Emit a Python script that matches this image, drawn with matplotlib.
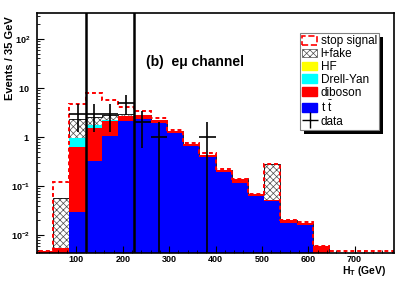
import numpy as np
import matplotlib
matplotlib.use("Agg")
import matplotlib.pyplot as plt
from matplotlib import ticker
from matplotlib.patches import Patch, Rectangle
from matplotlib.lines import Line2D

plt.rcParams['font.family'] = ['Liberation Sans', 'DejaVu Sans']
plt.rcParams['mathtext.fontset'] = 'custom'
plt.rcParams['mathtext.rm'] = 'Liberation Sans'
plt.rcParams['mathtext.it'] = 'Liberation Sans:italic'
plt.rcParams['mathtext.bf'] = 'Liberation Sans:bold'
plt.rcParams['hatch.linewidth'] = 0.5

# ---- binning: 35 GeV bins, 15 .. 785 GeV ----
edges = np.arange(15, 786, 35)

# ---- per-process yields per bin ----
ttbar = [0, 0, 0.029, 0.32, 1.05, 2.14, 2.35, 1.95, 1.22, 0.66, 0.40,
         0.19, 0.116, 0.062, 0.049, 0.0174, 0.0161, 0, 0, 0, 0, 0]
diboson = [0.0048, 0.0055, 0.61, 1.20, 1.09, 0.51, 0.40, 0.25, 0.12, 0.05, 0.03,
           0.026, 0.026, 0.007, 0.002, 0.0026, 0.0019, 0.0059, 0, 0, 0, 0]
drellyan = [0, 0, 0.30, 0.23, 0.10, 0, 0, 0, 0, 0, 0,
            0, 0, 0, 0, 0, 0, 0, 0, 0, 0, 0]
hf = [0] * 22
fake = [0, 0.0505, 1.36, 0.85, 0.56, 0.25, 0, 0, 0, 0, 0,
        0, 0, 0, 0.229, 0, 0, 0, 0, 0, 0, 0]
signal = [0, 0.064, 2.5, 5.25, 3.0, 1.2, 0.65, 0.25, 0.06, 0.04, 0.04,
          0.004, 0, 0, 0, 0, 0.0004, 0, 0.0047, 0.0047, 0.0047, 0.0047]

# ---- data counts per bin ----
data = [0, 0, 3, 3, 3, 5, 2, 1, 0, 0, 1,
        0, 0, 0, 0, 0, 0, 0, 0, 0, 0, 0]

cut_lines = [120, 225]

xticks = [100, 200, 300, 400, 500, 600, 700]
yticks = [1e-2, 1e-1, 1, 10, 100]
ytick_labels = [r'$\mathbf{10^{-2}}$', r'$\mathbf{10^{-1}}$', r'$\mathbf{1}$',
                r'$\mathbf{10}$', r'$\mathbf{10^{2}}$']

# cumulative stack tops
c_tt = np.array(ttbar)
c_vv = c_tt + np.array(diboson)
c_dy = c_vv + np.array(drellyan)
c_hf = c_dy + np.array(hf)
c_fk = c_hf + np.array(fake)
c_sig = c_fk + np.array(signal)

fig = plt.figure(figsize=(4.15, 2.82), dpi=100)
ax = fig.add_axes([37/415, 1 - 253/282, 357/415, 240/282])
ax.set_yscale('log')
base = 1e-6

ax.stairs(c_fk, edges, baseline=base, fill=True, facecolor='white',
          edgecolor='0.3', hatch='xxxxx', lw=0, zorder=1)
ax.stairs(c_fk, edges, baseline=base, fill=False, color='k', lw=0.6, zorder=1.1)
ax.stairs(c_hf, edges, baseline=base, fill=True, color='yellow', lw=0, zorder=1.2)
ax.stairs(c_dy, edges, baseline=base, fill=True, color='cyan', lw=0, zorder=1.3)
ax.stairs(c_vv, edges, baseline=base, fill=True, color='red', lw=0, zorder=1.4)
ax.stairs(c_tt, edges, baseline=base, fill=True, color='blue', lw=0, zorder=1.5)

ax.stairs(c_sig, edges, baseline=base, fill=False, color='red', lw=1.4,
          ls=(0, (2, 1.5)), zorder=2)

# data points
centers = 0.5 * (edges[:-1] + edges[1:])
d = np.array(data, dtype=float)
m = d > 0
err = np.sqrt(d[m])
lo = np.minimum(err, d[m] - 1e-5)
ax.errorbar(centers[m], d[m], xerr=17.5, yerr=[lo, err], fmt='none',
            ecolor='k', elinewidth=1.2, capsize=0, zorder=3)

for xc in cut_lines:
    ax.axvline(xc, color='k', lw=1.8, zorder=3)

ax.set_xlim(15, 785)
ax.set_ylim(0.0043, 339)

ax.set_xticks(xticks)
ax.xaxis.set_minor_locator(ticker.MultipleLocator(20))
ax.set_yticks(yticks)
ax.set_yticklabels(ytick_labels)
ax.yaxis.set_minor_locator(ticker.LogLocator(base=10, subs=np.arange(2, 10)))
ax.yaxis.set_minor_formatter(ticker.NullFormatter())
ax.tick_params(axis='x', which='major', direction='in', length=5, width=0.8,
               labelsize=6.5, pad=1.5)
ax.tick_params(axis='x', which='minor', direction='in', length=2.5, width=0.6)
ax.tick_params(axis='y', which='major', direction='in', length=5, width=0.8,
               labelsize=6.5, pad=5)
ax.tick_params(axis='y', which='minor', direction='in', length=2.5, width=0.6)
for lab in ax.get_xticklabels():
    lab.set_fontweight('bold')
for sp in ax.spines.values():
    sp.set_linewidth(1.2)
    sp.set_zorder(4)

fig.text(10/415, 1 - 16/282, 'Events / 35 GeV', rotation=90, ha='center',
         va='top', fontsize=8, fontweight='bold')
fig.text(386/415, 1 - 271/282, r'$\mathbf{H_T}$ (GeV)', ha='right',
         va='center', fontsize=7.5, fontweight='bold')
ax.text((146 - 37)/357, (253 - 62)/240, '(b)  eμ channel',
        transform=ax.transAxes, ha='left', va='center', fontsize=10,
        fontweight='bold')

handles = [
    Patch(facecolor='white', edgecolor='red', ls='--', lw=1.2),
    Patch(facecolor='white', edgecolor='0.3', hatch='xxxxx', lw=0.5),
    Patch(facecolor='yellow', edgecolor='yellow'),
    Patch(facecolor='cyan', edgecolor='cyan'),
    Patch(facecolor='red', edgecolor='red'),
    Patch(facecolor='blue', edgecolor='blue'),
    Line2D([0], [0], color='k', marker='+', markersize=11, ls='none', mew=1.0),
]
labels = ['stop signal', 'l+fake', 'HF', 'Drell-Yan', 'diboson',
          r't $\bar{\mathrm{t}}$', 'data']
leg = ax.legend(handles, labels, loc='upper left',
                bbox_to_anchor=((300 - 37)/357, (253 - 33)/240),
                borderaxespad=0, fontsize=8.5, frameon=True, fancybox=False,
                edgecolor='0.5', framealpha=1, labelspacing=0.07,
                handlelength=1.25, handleheight=0.75, handletextpad=0.3,
                borderpad=0.2)
leg.get_frame().set_linewidth(0.8)
leg.set_zorder(6)

fig.canvas.draw()
bb = leg.get_window_extent()
inv = ax.transAxes.inverted()
(x0, y0), (x1, y1) = inv.transform([[bb.x0 + 4, bb.y0 - 4], [bb.x1 + 4, bb.y1 - 4]])
ax.add_patch(Rectangle((x0, y0), x1 - x0, y1 - y0, transform=ax.transAxes,
                       facecolor='k', edgecolor='none', zorder=5.5, clip_on=False))

fig.savefig('out.png', dpi=100)
